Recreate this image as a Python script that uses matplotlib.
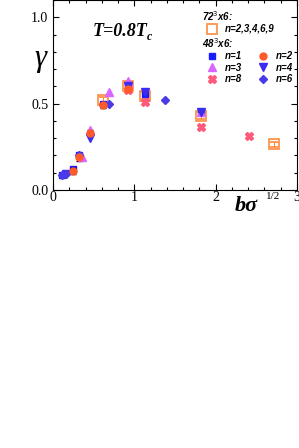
import matplotlib
matplotlib.use("Agg")
import matplotlib.pyplot as plt
from matplotlib.ticker import MultipleLocator
from matplotlib.lines import Line2D

# ---- data ----
x_n1 = [0.11, 0.24, 0.32, 0.61, 0.92, 1.13, 1.82]
y_n1 = [0.085, 0.12, 0.20, 0.50, 0.60, 0.555, 0.45]
x_n2 = [0.24, 0.32, 0.457, 0.61, 0.92]
y_n2 = [0.11, 0.19, 0.33, 0.49, 0.585]
x_n3 = [0.36, 0.457, 0.69, 0.92, 1.82]
y_n3 = [0.19, 0.35, 0.565, 0.63, 0.45]
x_n4 = [0.16, 0.457, 0.92, 1.13, 1.82]
y_n4 = [0.095, 0.30, 0.60, 0.57, 0.45]
x_n6 = [0.107, 0.16, 0.32, 0.69, 1.37]
y_n6 = [0.085, 0.095, 0.20, 0.50, 0.52]
x_n8 = [0.92, 1.13, 1.82, 2.41]
y_n8 = [0.58, 0.51, 0.365, 0.315]
x_72 = [0.61, 0.92, 1.13, 1.82, 2.72]
y_72 = [0.52, 0.60, 0.545, 0.43, 0.265]
err_72 = [0.02, 0.025, 0.02, 0.02, 0.015]
err_n2 = [0.015, 0.02, 0.02, 0.015, 0.02]

x_ticks = [0, 1, 2, 3]
y_ticks = [0.0, 0.5, 1.0]

c_orange = "#ff8a3d"
c_blue = "#1a1aff"
c_red = "#ff5a2a"
c_violet = "#d966ff"
c_blue4 = "#3a2cf0"
c_blue6 = "#4a3ae8"
c_pink = "#ff5a7a"

fig = plt.figure(figsize=(2.99, 4.48), dpi=100)
ax = fig.add_axes([0.178, 0.576, 0.815, 0.424])

ms = 5
ax.errorbar(x_72, y_72, yerr=err_72, fmt="s", ms=7.5, mfc="none", mec=c_orange,
            mew=1.2, ecolor=c_orange, elinewidth=0.8, capsize=3, zorder=2)
ax.plot(x_n1, y_n1, "s", ms=ms, color=c_blue, zorder=3)
ax.errorbar(x_n2, y_n2, yerr=err_n2, fmt="o", ms=ms, color=c_red, ecolor="black",
            elinewidth=0.8, capsize=2.5, zorder=3)
ax.plot(x_n3, y_n3, "^", ms=ms + 0.5, color=c_violet, zorder=3)
ax.plot(x_n4, y_n4, "v", ms=ms + 0.5, color=c_blue4, zorder=3)
ax.plot(x_n6, y_n6, "D", ms=ms - 0.5, color=c_blue6, zorder=3)
ax.plot(x_n8, y_n8, "X", ms=ms + 0.5, color=c_pink, zorder=3)

ax.set_xlim(0, 3)
ax.set_ylim(0, 1.1)
ax.set_xticks(x_ticks)
ax.set_yticks(y_ticks)
ax.set_yticklabels([f"{v:.1f}" for v in y_ticks])
ax.xaxis.set_minor_locator(MultipleLocator(0.2))
ax.yaxis.set_minor_locator(MultipleLocator(0.1))
ax.tick_params(which="both", direction="in", top=True, right=True)
ax.tick_params(which="major", length=4, width=0.8)
ax.tick_params(which="minor", length=2.5, width=0.8)
for lab in ax.get_xticklabels() + ax.get_yticklabels():
    lab.set_fontfamily("Liberation Serif")
    lab.set_fontsize(10)
ax.tick_params(axis="x", pad=1)

tfont = dict(fontweight="bold", fontstyle="italic", family="Liberation Serif")
ax.text(0.16, 0.813, "T=0.8T", transform=ax.transAxes, fontsize=13, **tfont)
ax.text(0.384, 0.79, "c", transform=ax.transAxes, fontsize=8.5, **tfont)

fig.text(0.115, 0.852, "γ", fontsize=22, fontstyle="italic", family="Liberation Serif")
fig.text(0.785, 0.528, "bσ", fontsize=16, fontweight="bold", fontstyle="italic",
         family="Liberation Serif")
fig.text(0.888, 0.556, "1/2", fontsize=8, family="Liberation Serif")

lfont = {"family": "Liberation Sans", "weight": "bold", "style": "italic", "size": 7}
h72 = [Line2D([], [], ls="", marker="s", ms=7, mfc="none", mec=c_orange, mew=1.2)]
leg1 = ax.legend(h72, ["n=2,3,4,6,9"], title="72$^3$x6:", loc="upper left",
                 bbox_to_anchor=(0.583, 0.985), frameon=False, prop=lfont,
                 handlelength=2.0, handletextpad=0.3, borderpad=0.2,
                 labelspacing=0.05, alignment="left", title_fontproperties=lfont)
ax.add_artist(leg1)
h48 = [Line2D([], [], ls="", marker="s", ms=ms, color=c_blue),
       Line2D([], [], ls="", marker="^", ms=ms + 0.5, color=c_violet),
       Line2D([], [], ls="", marker="X", ms=ms + 0.5, color=c_pink),
       Line2D([], [], ls="", marker="o", ms=ms, color=c_red),
       Line2D([], [], ls="", marker="v", ms=ms + 0.5, color=c_blue4),
       Line2D([], [], ls="", marker="D", ms=ms - 0.5, color=c_blue6)]
leg2 = ax.legend(h48, ["n=1", "n=3", "n=8", "n=2", "n=4", "n=6"], title="48$^3$x6:",
                 ncol=2, loc="upper left", bbox_to_anchor=(0.583, 0.847), frameon=False,
                 prop=lfont, handlelength=2.0, handletextpad=0.3, columnspacing=1.2,
                 labelspacing=0.15, borderpad=0.2, alignment="left",
                 title_fontproperties=lfont)

fig.savefig("out.png", dpi=100)
